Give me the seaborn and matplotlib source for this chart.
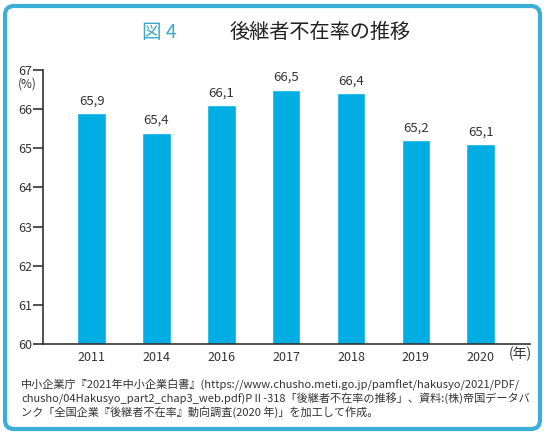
import matplotlib
matplotlib.use('Agg')
import matplotlib.pyplot as plt
import matplotlib.patches as mpatches
from matplotlib.transforms import IdentityTransform
import seaborn as sns

years = ['2011', '2014', '2016', '2017', '2018', '2019', '2020']
rates = [65.9, 65.4, 66.1, 66.5, 66.4, 65.2, 65.1]
yticks = [60, 61, 62, 63, 64, 65, 66, 67]

sns.set_style('ticks')
plt.rcParams['font.family'] = ['Noto Sans CJK JP', 'DejaVu Sans']

BAR = '#00aee3'
FRAME = '#3aaed6'
TEXT = '#333333'

fig = plt.figure(figsize=(5.5, 4.38), dpi=100)
ax = fig.add_axes([43 / 550, 94 / 438, 487 / 550, 274 / 438])

sns.barplot(x=years, y=rates, color=BAR, saturation=1, width=0.44, ax=ax)
ax.set_ylim(60, 67)
ax.set_xlim(-0.75, 6.76)
ax.set_yticks(yticks)
ax.set_yticklabels([str(v) for v in yticks])

labels = [f'{v:.1f}'.replace('.', ',') for v in rates]
ax.bar_label(ax.containers[0], labels=labels, padding=4, fontsize=9.5, color=TEXT)

sns.despine(ax=ax)
ax.spines['left'].set_linewidth(1.2)
ax.spines['bottom'].set_linewidth(1.2)
ax.spines['left'].set_color(TEXT)
ax.spines['bottom'].set_color(TEXT)
ax.tick_params(axis='x', length=0, pad=5, labelsize=9, labelcolor=TEXT)
ax.tick_params(axis='y', length=7, width=1.2, pad=1, labelsize=9,
               labelcolor=TEXT, color=TEXT)
ax.set_xlabel('')
ax.set_ylabel('')

fig.text(27 / 550, 1 - 84 / 438, '(%)', ha='center', va='center',
         fontsize=8.5, color=TEXT)
fig.text(520 / 550, 1 - 354 / 438, '(年)', ha='center', va='center',
         fontsize=10, color=TEXT)

# title
fig.text(142 / 550, 1 - 32 / 438, '図 4', ha='left', va='center',
         fontsize=14, color='#3aa8cc')
fig.text(320 / 550, 1 - 32 / 438, '後継者不在率の推移', ha='center', va='center',
         fontsize=14.5, fontweight='normal', color='#222222')

# source note
note = [
    '中小企業庁『2021年中小企業白書』(https://www.chusho.meti.go.jp/pamflet/hakusyo/2021/PDF/',
    'chusho/04Hakusyo_part2_chap3_web.pdf)PⅡ-318「後継者不在率の推移」、資料:(株)帝国データバ',
    'ンク「全国企業『後継者不在率』動向調査(2020 年)」を加工して作成。',
]
for i, line in enumerate(note):
    fig.text(21 / 550, 1 - (385 + i * 13.5) / 438, line, ha='left', va='center',
             fontsize=8, color=TEXT)

frame = mpatches.FancyBboxPatch((5, 9), 535, 423,
                                boxstyle='round,pad=0,rounding_size=9',
                                transform=IdentityTransform(),
                                fill=False, edgecolor=FRAME, linewidth=3)
fig.patches.append(frame)

fig.savefig('out.png', dpi=100)
